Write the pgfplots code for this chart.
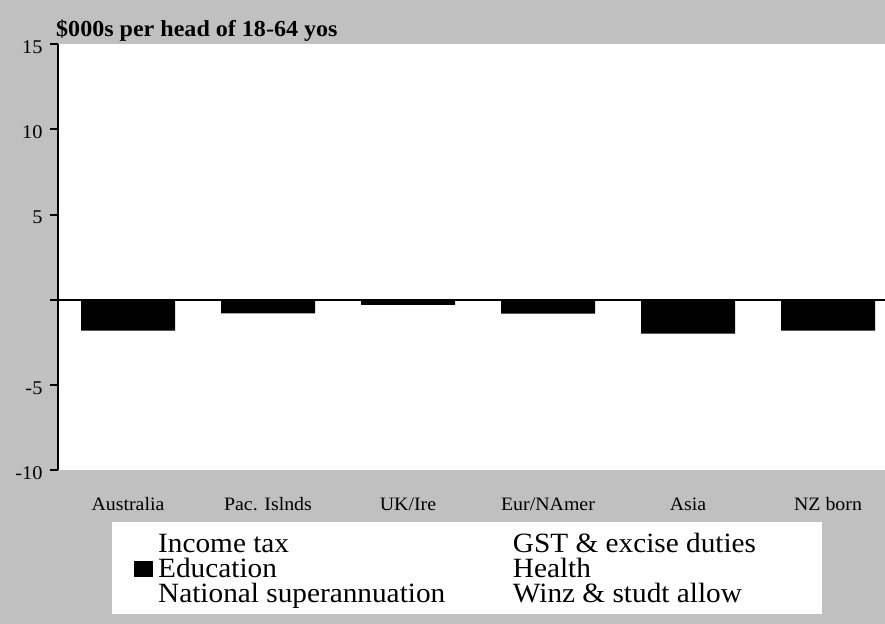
\documentclass[border=0pt]{standalone}
\usepackage{fontspec}
\setmainfont{Liberation Serif}[FakeStretch=1.05]
\usepackage{pgfplots}
\pgfplotsset{compat=1.18}
\definecolor{panelgray}{HTML}{C0C0C0}

\begin{document}
\begin{tikzpicture}
% grey panel behind everything
\fill[panelgray] (0,0) rectangle (885bp,624bp);
\useasboundingbox (0,0) rectangle (885bp,624bp);
% white legend panel
\fill[white] (112.3bp,10bp) rectangle (821.7bp,102bp);
% chart heading
\node[anchor=base west, inner sep=0pt, font=\bfseries\fontsize{23}{23}\selectfont]
  at (56bp,587bp) {\$000s per head of 18-64 yos};

\begin{axis}[
  at={(58bp,154bp)}, anchor=south west,
  scale only axis, width=827bp, height=425.7bp,
  xmin=-0.5, xmax=5.407, ymin=-10, ymax=15,
  axis background/.style={fill=white},
  axis x line*=bottom, axis y line*=left,
  x axis line style={draw=none},
  y axis line style={line width=2.5bp, black},
  tick align=outside,
  major tick length=8bp,
  xtick={0,1,2,3,4,5},
  xticklabels={Australia, Pac. Islnds, UK/Ire, Eur/NAmer, Asia, NZ born},
  xtick style={draw=none},
  xticklabel style={font=\fontsize{19}{19}\selectfont, anchor=base, yshift=-32bp},
  ytick={-10,-5,0,5,10,15},
  yticklabels={-10,-5,,5,10,15},
  ytick style={line width=2bp, black},
  yticklabel style={font=\fontsize{19.5}{19.5}\selectfont, xshift=-4bp, yshift=-3bp},
  legend columns=2,
  legend cell align=left,
  legend style={
    at={(axis description cs:0.09226,-0.14963)}, anchor=north west,
    draw=none, fill=none, inner sep=0pt,
    row sep=0pt,
    font=\fontsize{28}{25}\selectfont,
    nodes={inner sep=0pt, text height=19bp, text depth=6bp},
    /tikz/every odd column/.style={column sep=4.7bp},
    /tikz/every even column/.style={column sep=0pt},
  },
]
\addlegendimage{empty legend}
\addlegendentry{\makebox[350bp][l]{Income tax}}
\addlegendimage{empty legend}
\addlegendentry{GST \& excise duties}

% Education, the only non-zero component
\addplot[ybar, bar width=94bp, bar shift=0pt, fill=black, draw=none,
  legend image code/.code={\fill[black] (0bp,-5.5bp) rectangle (19bp,10.8bp);}]
  coordinates {(0,-1.82) (1,-0.80) (2,-0.31) (3,-0.82) (4,-1.99) (5,-1.82)};
\addlegendentry{\makebox[350bp][l]{Education}}

\addlegendimage{empty legend}
\addlegendentry{Health}
\addlegendimage{empty legend}
\addlegendentry{\makebox[350bp][l]{National superannuation}}
\addlegendimage{empty legend}
\addlegendentry{Winz \& studt allow}

% zero line
\draw[black, line width=1.6bp] (axis cs:-0.5,0) -- (axis cs:5.407,0);
\end{axis}
\end{tikzpicture}
\end{document}
